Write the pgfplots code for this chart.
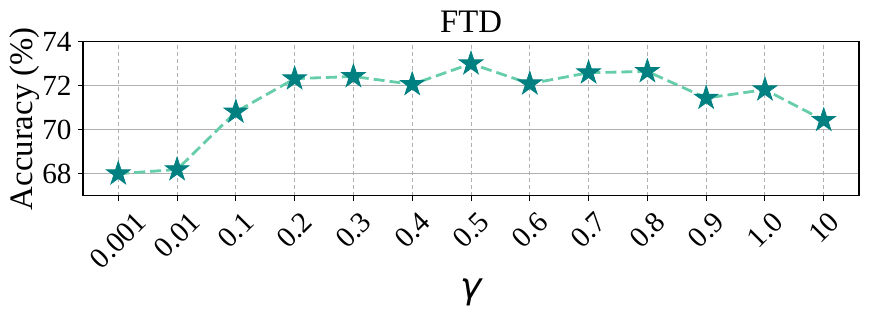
\documentclass[border=0pt]{standalone}
\usepackage{fontspec}
\setmainfont{Liberation Serif}
\newfontfamily\dejavu{DejaVu Sans}
\usepackage{graphicx}
\usepackage{pgfplots}
\pgfplotsset{compat=1.18}

\definecolor{starteal}{HTML}{008080}
\definecolor{linegreen}{HTML}{66CDAA}
\definecolor{gridgray}{HTML}{B0B0B0}

% filled five-pointed star, like matplotlib's '*'
\pgfdeclareplotmark{fstar}{%
  \pgfpathmoveto{\pgfpointpolar{90}{\pgfplotmarksize}}%
  \pgfpathlineto{\pgfpointpolar{126}{0.382\pgfplotmarksize}}%
  \pgfpathlineto{\pgfpointpolar{162}{\pgfplotmarksize}}%
  \pgfpathlineto{\pgfpointpolar{198}{0.382\pgfplotmarksize}}%
  \pgfpathlineto{\pgfpointpolar{234}{\pgfplotmarksize}}%
  \pgfpathlineto{\pgfpointpolar{270}{0.382\pgfplotmarksize}}%
  \pgfpathlineto{\pgfpointpolar{306}{\pgfplotmarksize}}%
  \pgfpathlineto{\pgfpointpolar{342}{0.382\pgfplotmarksize}}%
  \pgfpathlineto{\pgfpointpolar{18}{\pgfplotmarksize}}%
  \pgfpathlineto{\pgfpointpolar{54}{0.382\pgfplotmarksize}}%
  \pgfpathclose
  \pgfusepathqfillstroke
}

\newcommand\rl[1]{\rotatebox{45}{#1}}

\begin{document}
\begin{tikzpicture}
\begin{axis}[
  scale only axis,
  width=388pt, height=77pt,
  xmin=-0.6, xmax=12.6,
  ymin=67, ymax=74,
  xtick={0,1,2,3,4,5,6,7,8,9,10,11,12},
  xticklabels={\rl{0.001},\rl{0.01},\rl{0.1},\rl{0.2},\rl{0.3},\rl{0.4},\rl{0.5},\rl{0.6},\rl{0.7},\rl{0.8},\rl{0.9},\rl{1.0},\rl{10}},
  ytick={68,70,72,74},
  tick pos=left,
  tick align=outside,
  major tick length=2.5pt,
  tick style={black, line width=0.5pt},
  axis line style={black, line width=0.7pt},
  /pgf/number format/assume math mode=true,
  tick label style={font=\fontsize{14.6}{16}\selectfont},
  xticklabel style={anchor=north, inner sep=0pt, yshift=-4.5pt},
  yticklabel style={inner sep=0pt, xshift=-3pt},
  xmajorgrids, ymajorgrids,
  x grid style={gridgray, line width=0.5pt, dash pattern=on 2pt off 1.5pt},
  y grid style={gridgray, line width=0.6pt},
  title={FTD},
  title style={font=\fontsize{16.4}{18}\selectfont, at={(rel axis cs:0.5,1)}, anchor=base, inner sep=0pt, yshift=-1.6pt},
  ylabel={Accuracy (\%)},
  ylabel style={font=\fontsize{16.4}{18}\selectfont, at={(rel axis cs:-0.0554,0.5)}, anchor=south, inner sep=0pt},
  xlabel={{\dejavu\itshape γ}},
  xlabel style={font=\fontsize{18}{20}\selectfont, at={(rel axis cs:0.5,0)}, anchor=center, inner sep=0pt, yshift=-48.5pt},
]
\addplot[color=linegreen, line width=1.4pt, dash pattern=on 5.5pt off 2.5pt,
  mark=fstar, mark size=6.2pt,
  mark options={solid, fill=starteal, draw=starteal, line width=0.4pt}]
  coordinates {(0,68.00)(1,68.19)(2,70.81)(3,72.32)(4,72.42)(5,72.06)(6,73.00)(7,72.09)(8,72.59)(9,72.65)(10,71.44)(11,71.82)(12,70.43)};
\coordinate (bl) at (rel axis cs:0,0);
\coordinate (tr) at (rel axis cs:1,1);
\end{axis}
\pgfresetboundingbox
\path[use as bounding box] ([shift={(-41.5pt,-60.15pt)}]bl) rectangle ([shift={(5pt,20.85pt)}]tr);
\end{tikzpicture}
\end{document}
